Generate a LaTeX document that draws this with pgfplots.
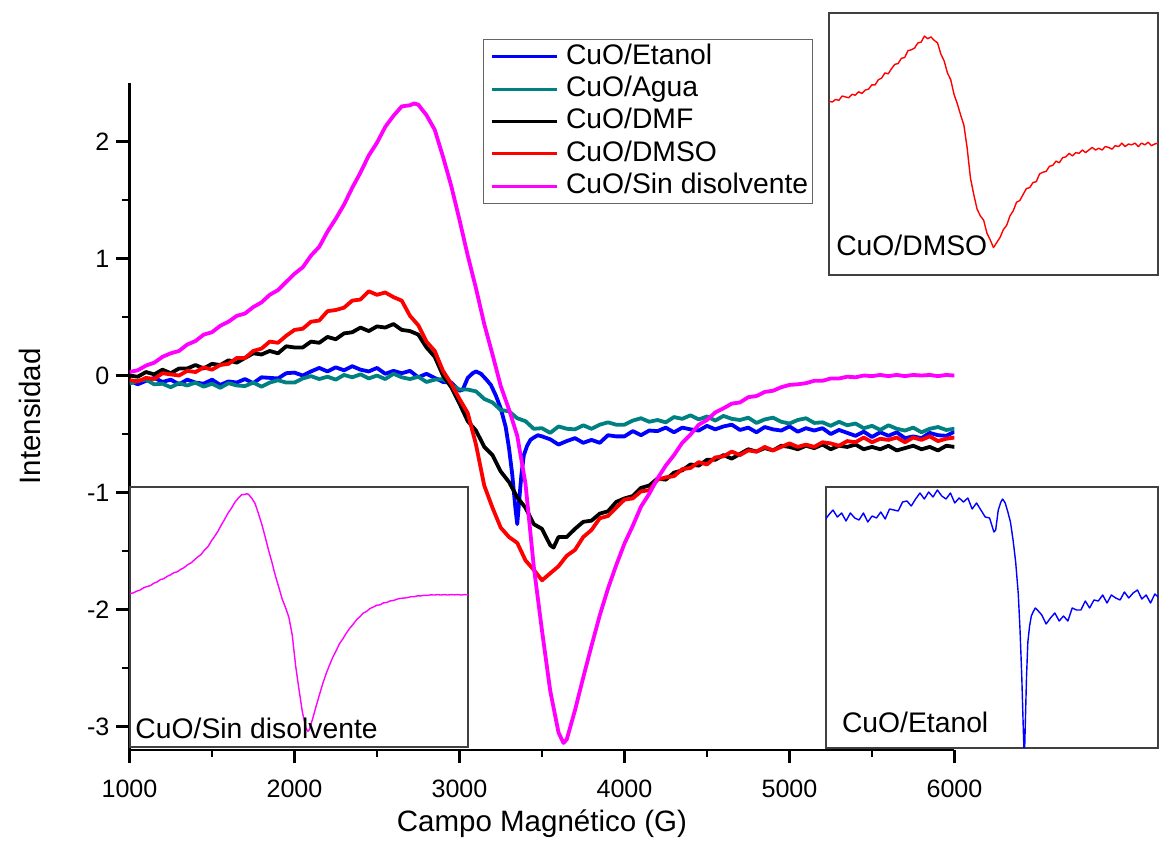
\documentclass[border=0pt]{standalone}
\usepackage{fontspec}
\setmainfont{Liberation Sans}
\usepackage{pgfplots}
\pgfplotsset{compat=1.18}
\usepackage{pgfplotstable}

\definecolor{cEt}{RGB}{0,0,255}
\definecolor{cAg}{RGB}{0,128,128}
\definecolor{cDMF}{RGB}{0,0,0}
\definecolor{cDMSO}{RGB}{255,0,0}
\definecolor{cSin}{RGB}{255,0,255}

\pgfplotstableread{
x y
1000 -0.045
1050 -0.075
1100 -0.045
1150 -0.02
1200 -0.055
1250 -0.035
1300 -0.075
1350 -0.035
1400 -0.06
1450 -0.07
1500 -0.035
1550 -0.08
1600 -0.05
1650 -0.06
1700 -0.03
1750 -0.065
1800 -0.015
1850 -0.02
1900 -0.025
1950 0.02
2000 0.025
2050 0.00
2100 0.035
2150 0.065
2200 0.035
2250 0.07
2300 0.045
2350 0.08
2400 0.05
2450 0.035
2500 0.065
2550 0.015
2600 0.04
2650 0.02
2700 0.04
2750 -0.015
2800 0.015
2850 -0.02
2900 -0.055
2950 -0.06
3000 -0.13
3020 -0.12
3050 -0.02
3080 0.02
3100 0.035
3130 0.015
3160 -0.03
3190 -0.08
3220 -0.17
3250 -0.28
3280 -0.44
3300 -0.62
3320 -0.85
3340 -1.15
3350 -1.27
3360 -1.10
3375 -0.85
3390 -0.68
3410 -0.60
3430 -0.55
3450 -0.53
3475 -0.51
3500 -0.52
3550 -0.545
3600 -0.59
3650 -0.56
3700 -0.535
3750 -0.575
3800 -0.55
3850 -0.575
3900 -0.51
3950 -0.52
4000 -0.52
4050 -0.475
4100 -0.51
4150 -0.47
4200 -0.475
4250 -0.445
4300 -0.485
4350 -0.445
4400 -0.46
4450 -0.47
4500 -0.43
4550 -0.46
4600 -0.435
4650 -0.42
4700 -0.465
4750 -0.445
4800 -0.485
4850 -0.44
4900 -0.46
4950 -0.47
5000 -0.435
5050 -0.48
5100 -0.45
5150 -0.47
5200 -0.45
5250 -0.50
5300 -0.465
5350 -0.49
5400 -0.515
5450 -0.48
5500 -0.525
5550 -0.485
5600 -0.515
5650 -0.485
5700 -0.535
5750 -0.52
5800 -0.535
5850 -0.49
5900 -0.51
5950 -0.515
6000 -0.48
}\tabEt

\pgfplotstableread{
x y
1000 -0.07
1050 -0.045
1100 -0.035
1150 -0.075
1200 -0.07
1250 -0.10
1300 -0.065
1350 -0.085
1400 -0.06
1450 -0.095
1500 -0.07
1550 -0.105
1600 -0.065
1650 -0.085
1700 -0.09
1750 -0.06
1800 -0.095
1850 -0.06
1900 -0.04
1950 -0.06
2000 -0.06
2050 -0.025
2100 -0.005
2150 -0.03
2200 -0.01
2250 -0.035
2300 0.005
2350 -0.015
2400 0.01
2450 -0.025
2500 0.00
2550 -0.03
2600 0.015
2650 -0.015
2700 -0.03
2750 -0.01
2800 -0.055
2850 -0.035
2900 -0.03
2950 -0.08
3000 -0.12
3050 -0.12
3100 -0.135
3150 -0.20
3200 -0.23
3250 -0.295
3300 -0.305
3350 -0.365
3400 -0.39
3450 -0.455
3500 -0.45
3550 -0.49
3600 -0.435
3650 -0.455
3700 -0.46
3750 -0.425
3800 -0.455
3850 -0.42
3900 -0.40
3950 -0.42
4000 -0.42
4050 -0.385
4100 -0.365
4150 -0.395
4200 -0.38
4250 -0.40
4300 -0.355
4350 -0.37
4400 -0.34
4450 -0.375
4500 -0.35
4550 -0.385
4600 -0.345
4650 -0.37
4700 -0.38
4750 -0.36
4800 -0.405
4850 -0.375
4900 -0.36
4950 -0.395
5000 -0.41
5050 -0.38
5100 -0.365
5150 -0.405
5200 -0.40
5250 -0.43
5300 -0.395
5350 -0.425
5400 -0.41
5450 -0.45
5500 -0.43
5550 -0.465
5600 -0.425
5650 -0.455
5700 -0.47
5750 -0.445
5800 -0.485
5850 -0.455
5900 -0.44
5950 -0.465
6000 -0.455
}\tabAg

\pgfplotstableread{
x y
1000 0.00
1050 -0.01
1100 0.03
1150 0.01
1200 0.05
1250 0.02
1300 0.06
1350 0.06
1400 0.09
1450 0.06
1500 0.10
1550 0.09
1600 0.13
1650 0.11
1700 0.15
1750 0.19
1800 0.18
1850 0.21
1900 0.19
1950 0.25
2000 0.24
2050 0.24
2100 0.29
2150 0.28
2200 0.33
2250 0.31
2300 0.36
2350 0.37
2400 0.41
2450 0.38
2500 0.42
2550 0.41
2600 0.44
2650 0.39
2700 0.38
2750 0.35
2800 0.24
2850 0.16
2900 0.00
2950 -0.10
3000 -0.24
3050 -0.39
3100 -0.47
3150 -0.61
3200 -0.68
3250 -0.82
3300 -0.91
3350 -1.04
3400 -1.13
3450 -1.27
3500 -1.31
3550 -1.45
3570 -1.47
3600 -1.38
3650 -1.38
3700 -1.31
3750 -1.25
3800 -1.24
3850 -1.18
3900 -1.16
3950 -1.08
4000 -1.05
4050 -1.03
4100 -0.96
4150 -0.94
4200 -0.88
4250 -0.89
4300 -0.83
4350 -0.81
4400 -0.76
4450 -0.77
4500 -0.72
4550 -0.72
4600 -0.68
4650 -0.71
4700 -0.67
4750 -0.63
4800 -0.65
4850 -0.62
4900 -0.64
4950 -0.60
5000 -0.61
5050 -0.63
5100 -0.60
5150 -0.62
5200 -0.59
5250 -0.63
5300 -0.60
5350 -0.61
5400 -0.59
5450 -0.63
5500 -0.61
5550 -0.63
5600 -0.60
5650 -0.64
5700 -0.62
5750 -0.60
5800 -0.63
5850 -0.61
5900 -0.64
5950 -0.60
6000 -0.61
}\tabDMF

\pgfplotstableread{
x y
1000 -0.04
1050 -0.05
1100 -0.02
1150 -0.03
1200 0.02
1250 0.01
1300 0.00
1350 0.04
1400 0.03
1450 0.07
1500 0.05
1550 0.09
1600 0.10
1650 0.15
1700 0.15
1750 0.21
1800 0.23
1850 0.29
1900 0.28
1950 0.34
2000 0.39
2050 0.40
2100 0.46
2150 0.47
2200 0.55
2250 0.56
2300 0.58
2350 0.64
2400 0.65
2450 0.72
2500 0.69
2550 0.71
2600 0.67
2650 0.64
2700 0.51
2750 0.43
2800 0.29
2850 0.21
2900 0.04
2950 -0.07
3000 -0.20
3050 -0.32
3100 -0.59
3150 -0.94
3200 -1.13
3250 -1.30
3300 -1.38
3350 -1.43
3400 -1.58
3450 -1.66
3500 -1.75
3550 -1.69
3600 -1.63
3650 -1.54
3700 -1.49
3750 -1.38
3800 -1.32
3850 -1.22
3900 -1.20
3950 -1.13
4000 -1.06
4050 -1.05
4100 -0.99
4150 -0.98
4200 -0.89
4250 -0.87
4300 -0.86
4350 -0.80
4400 -0.79
4450 -0.74
4500 -0.76
4550 -0.70
4600 -0.69
4650 -0.65
4700 -0.68
4750 -0.64
4800 -0.65
4850 -0.61
4900 -0.64
4950 -0.61
5000 -0.58
5050 -0.61
5100 -0.59
5150 -0.61
5200 -0.57
5250 -0.58
5300 -0.60
5350 -0.56
5400 -0.57
5450 -0.53
5500 -0.57
5550 -0.54
5600 -0.55
5650 -0.53
5700 -0.57
5750 -0.53
5800 -0.55
5850 -0.52
5900 -0.56
5950 -0.54
6000 -0.53
}\tabDMSO

\pgfplotstableread{
x y
1000 0.030
1050 0.045
1100 0.085
1150 0.110
1200 0.160
1250 0.190
1300 0.210
1350 0.265
1400 0.295
1450 0.350
1500 0.370
1550 0.425
1600 0.460
1650 0.510
1700 0.530
1750 0.585
1800 0.625
1850 0.690
1900 0.730
1950 0.800
2000 0.870
2050 0.925
2100 1.025
2150 1.100
2200 1.230
2250 1.340
2300 1.460
2350 1.605
2400 1.735
2450 1.880
2500 1.990
2550 2.125
2600 2.220
2650 2.300
2700 2.310
2725 2.325
2750 2.315
2800 2.225
2850 2.100
2900 1.870
2950 1.620
3000 1.330
3050 1.025
3100 0.745
3150 0.440
3200 0.180
3250 -0.090
3300 -0.290
3350 -0.515
3400 -0.925
3450 -1.630
3500 -2.180
3550 -2.695
3600 -3.050
3630 -3.140
3650 -3.110
3700 -2.860
3750 -2.580
3800 -2.310
3850 -2.050
3900 -1.820
3950 -1.620
4000 -1.435
4050 -1.285
4100 -1.120
4150 -1.010
4200 -0.880
4250 -0.770
4300 -0.680
4350 -0.575
4400 -0.505
4450 -0.420
4500 -0.380
4550 -0.315
4600 -0.280
4650 -0.240
4700 -0.230
4750 -0.185
4800 -0.175
4850 -0.140
4900 -0.130
4950 -0.100
5000 -0.080
5050 -0.075
5100 -0.065
5150 -0.045
5200 -0.045
5250 -0.025
5300 -0.025
5350 -0.010
5400 -0.015
5450 0.000
5500 -0.005
5550 0.005
5600 -0.005
5650 0.005
5700 -0.005
5750 0.005
5800 0.000
5850 0.005
5900 -0.005
5950 0.005
6000 0.000
}\tabSin

\newcommand{\legfont}{\fontsize{14.2}{17}\selectfont}

\begin{document}
\begin{tikzpicture}
\path[use as bounding box] (0,0) rectangle (579.5bp,425bp);
\begin{axis}[
  at={(64.75bp,50bp)}, anchor=south west,
  scale only axis, width=412.5bp, height=333.5bp,
  xmin=1000, xmax=6000, ymin=-3.2, ymax=2.5,
  axis x line*=bottom, axis y line*=left,
  axis line style={-, line width=1.2bp},
  xtick={1000,2000,...,6000}, ytick={-3,-2,...,2},
  minor x tick num=1, minor y tick num=1,
  tick align=outside,
  major tick length=6.5bp, minor tick length=3.5bp,
  every tick/.style={black, line width=1.2bp},
  /pgf/number format/assume math mode=true,
  /pgf/number format/1000 sep={},
  ticklabel style={font=\fontsize{12.6}{14}\selectfont},
  xticklabel style={yshift=-5bp},
  xlabel={Campo Magnético (G)},
  ylabel={Intensidad},
  label style={font=\fontsize{14.8}{17}\selectfont},
  xlabel style={at={(axis description cs:0.5,-0.11)}, anchor=center},
  ylabel style={at={(axis description cs:-0.1206,0.5)}, anchor=center},
  legend cell align=left,
  legend style={at={(0.4285,1.066)}, anchor=north west,
    draw=black!60, line width=0.6bp, fill=white,
    font=\legfont, inner xsep=1.5bp, inner ysep=0.5bp, row sep=0pt,
    nodes={inner sep=0.8bp, text height=11bp, text depth=3.6bp}},
  legend image code/.code={\draw[#1, line width=1.5bp] (0bp,0bp) -- (32.5bp,0bp); \path (-1.5bp,0bp) (35.5bp,0bp);},
  every axis plot/.append style={line width=1.9bp, line join=round},
]
\addplot[cEt, no markers] table {\tabEt};
\addlegendentry{CuO/Etanol}
\addplot[cAg, no markers] table {\tabAg};
\addlegendentry{CuO/Agua}
\addplot[cDMF, no markers] table {\tabDMF};
\addlegendentry{CuO/DMF}
\addplot[cDMSO, no markers] table {\tabDMSO};
\addlegendentry{CuO/DMSO}
\addplot[cSin, no markers] table {\tabSin};
\addlegendentry{CuO/Sin disolvente}
\end{axis}

% inset DMSO
\begin{axis}[
  at={(414.5bp,287.5bp)}, anchor=south west,
  scale only axis, width=164.5bp, height=131bp,
  xmin=1000, xmax=6000, ymin=-2.07, ymax=0.99,
  xtick=\empty, ytick=\empty,
  axis line style={draw=black!75, line width=0.7bp},
]
\addplot[cDMSO, no markers, line width=0.7bp, line join=round] table {\tabDMSO};
\node[anchor=base west, font=\legfont, inner sep=0pt] at (rel axis cs:0.021,0.076) {CuO/DMSO};
\end{axis}

% inset Etanol
\begin{axis}[
  at={(413bp,51bp)}, anchor=south west,
  scale only axis, width=166bp, height=130.5bp,
  xmin=1070, xmax=4886, ymin=-1.21, ymax=0.095,
  xtick=\empty, ytick=\empty,
  axis line style={draw=black!75, line width=0.7bp},
]
\addplot[cEt, no markers, line width=0.7bp, line join=round] table {\tabEt};
\node[anchor=base west, font=\legfont, inner sep=0pt] at (rel axis cs:0.047,0.061) {CuO/Etanol};
\end{axis}

% inset Sin disolvente
\begin{axis}[
  at={(65bp,51.5bp)}, anchor=south west,
  scale only axis, width=169bp, height=130bp,
  xmin=1000, xmax=6000, ymin=-3.5, ymax=2.48,
  xtick=\empty, ytick=\empty,
  axis line style={draw=black!75, line width=0.7bp},
]
\addplot[cSin, no markers, line width=0.7bp, line join=round] table {\tabSin};
\node[anchor=base west, font=\legfont, inner sep=0pt] at (rel axis cs:0.015,0.031) {CuO/Sin disolvente};
\end{axis}
\end{tikzpicture}
\end{document}
